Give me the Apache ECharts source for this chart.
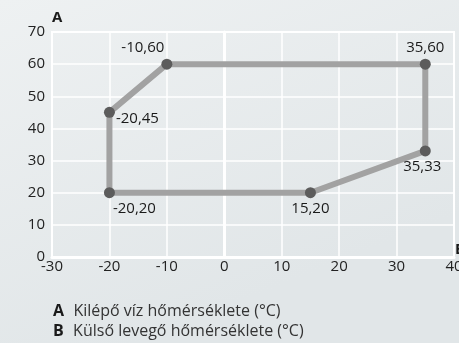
<!DOCTYPE html>
<html>
<head>
<meta charset="utf-8">
<script src="https://cdn.jsdelivr.net/npm/echarts@6/dist/echarts.min.js"></script>
<style>
  html, body { margin: 0; padding: 0; }
  #chart { width: 459px; height: 343px; }
</style>
</head>
<body>
<div id="chart"></div>
<script>
// operating envelope corners (outdoor temp, water temp), closed loop
var outdoorTemp = [-20, -20, -10, 35, 35, 15, -20]
var waterTemp = [20, 45, 60, 60, 33, 20, 20]
var pointLabels = ['-20,20', '-20,45', '-10,60', '35,60', '35,33', '15,20', '']
var labelPos = ['bottom', 'right', 'top', 'top', 'bottom', 'bottom', 'bottom']
var labelOffsets = [[25, 0], [-2, 6], [-24, 0], [0, 0], [-3, 0], [0, 0], [0, 0]]

var legendRows = [
  { key: 'A', text: 'Kilépő víz hőmérséklete (°C)' },
  { key: 'B', text: 'Külső levegő hőmérséklete (°C)' }
]

var chart = echarts.init(document.getElementById('chart'))
var font = '"Open Sans", sans-serif'

var points = outdoorTemp.map(function (x, i) {
  return {
    value: [x, waterTemp[i]],
    symbolSize: i === outdoorTemp.length - 1 ? 0 : 11,
    label: {
      show: pointLabels[i] !== '',
      formatter: pointLabels[i],
      position: labelPos[i],
      offset: labelOffsets[i]
    }
  }
})

chart.setOption({
  backgroundColor: new echarts.graphic.LinearGradient(0, 0, 0.3, 1, [
    { offset: 0, color: '#eef1f2' },
    { offset: 1, color: '#e1e6e8' }
  ]),
  textStyle: { fontFamily: font },
  title: {
    left: 48,
    top: 296,
    text: legendRows.map(function (r) {
      return '{k|' + r.key + '}  {t|' + r.text + '}'
    }).join('\n'),
    textStyle: {
      fontWeight: 'normal',
      rich: {
        k: { fontFamily: font, fontWeight: 'bold', fontSize: 16, color: '#1a1a1a', lineHeight: 20 },
        t: { fontFamily: font, fontWeight: 'normal', fontSize: 16, color: '#333', lineHeight: 20 }
      }
    }
  },
  graphic: [
    { type: 'text', left: 52, top: 10, style: { text: 'A', font: 'bold 15px "Open Sans", sans-serif', fill: '#1a1a1a' } },
    { type: 'text', left: 455, top: 242, style: { text: 'B', font: 'bold 15px "Open Sans", sans-serif', fill: '#1a1a1a' } }
  ],
  grid: {
    left: 52,
    top: 32,
    right: 5,
    bottom: 86,
    containLabel: false,
    outerBoundsMode: 'none',
    show: true,
    borderColor: '#ffffff',
    borderWidth: 2
  },
  xAxis: {
    type: 'value',
    min: -30,
    max: 40,
    interval: 10,
    axisLine: { show: true, lineStyle: { color: '#ffffff', width: 3 } },
    axisTick: { show: false },
    axisLabel: { color: '#222', fontSize: 15, margin: 2 },
    splitLine: { lineStyle: { color: '#ffffff', width: 1.5 } }
  },
  yAxis: {
    type: 'value',
    min: 0,
    max: 70,
    interval: 10,
    axisLine: { show: true, lineStyle: { color: '#ffffff', width: 3 } },
    axisTick: { show: false },
    axisLabel: { color: '#222', fontSize: 15, margin: 7 },
    splitLine: { lineStyle: { color: '#ffffff', width: 1.5 } }
  },
  series: [{
    type: 'line',
    data: points,
    symbol: 'circle',
    lineStyle: { color: '#a2a2a2', width: 6 },
    itemStyle: { color: '#5c5c5c' },
    label: { color: '#1a1a1a', fontSize: 15, distance: 3 },
    animation: false,
    z: 3
  }]
})
</script>
</body>
</html>
